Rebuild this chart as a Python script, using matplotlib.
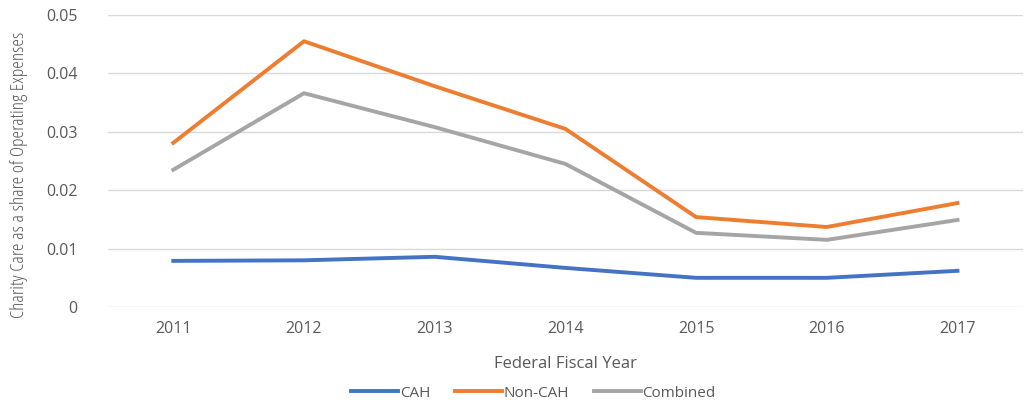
import numpy as np
import matplotlib.pyplot as plt

plt.rcParams['font.family'] = ['Open Sans', 'DejaVu Sans']

years = ['2011', '2012', '2013', '2014', '2015', '2016', '2017']
cah = [0.0079, 0.0080, 0.0086, 0.0067, 0.0050, 0.0050, 0.0062]
non_cah = [0.0281, 0.0455, 0.0378, 0.0305, 0.0154, 0.0137, 0.0178]
combined = [0.0235, 0.0366, 0.0308, 0.0245, 0.0127, 0.0115, 0.0149]

fig = plt.figure(figsize=(10.28, 4.04), dpi=100)
ax = fig.add_axes([0.105, 0.24, 0.89, 0.723])

x = np.arange(len(years))
ax.plot(x, cah, color='#4472C4', lw=2.8, label='CAH')
ax.plot(x, non_cah, color='#ED7D31', lw=2.8, label='Non-CAH')
ax.plot(x, combined, color='#A5A5A5', lw=2.8, label='Combined')

ax.set_xlim(-0.5, len(years) - 0.5)
ax.set_ylim(0, 0.05)
ax.set_yticks([0, 0.01, 0.02, 0.03, 0.04, 0.05])
ax.set_yticklabels(['0', '0.01', '0.02', '0.03', '0.04', '0.05'])
ax.set_xticks(x)
ax.set_xticklabels(years)
ax.grid(axis='y', color='#D9D9D9', lw=1)
ax.set_axisbelow(True)
for s in ax.spines.values():
    s.set_visible(False)
ax.tick_params(length=0, labelsize=11.5, colors='#595959', pad=10)
ax.tick_params(axis='y', pad=22)

ax.set_xlabel('Federal Fiscal Year', fontsize=12, color='#595959', labelpad=14)
fig.text(0.018, 0.567, 'Charity Care as a share of Operating Expenses', rotation=90,
         ha='center', va='center', fontsize=14, color='#595959', fontstretch='condensed')

ax.legend(loc='center', bbox_to_anchor=(0.465, -0.295), ncol=3, frameon=False,
          fontsize=11, handlelength=3.1, handletextpad=0.1, columnspacing=1.6,
          labelcolor='#595959')

fig.savefig('out.png', dpi=100)
